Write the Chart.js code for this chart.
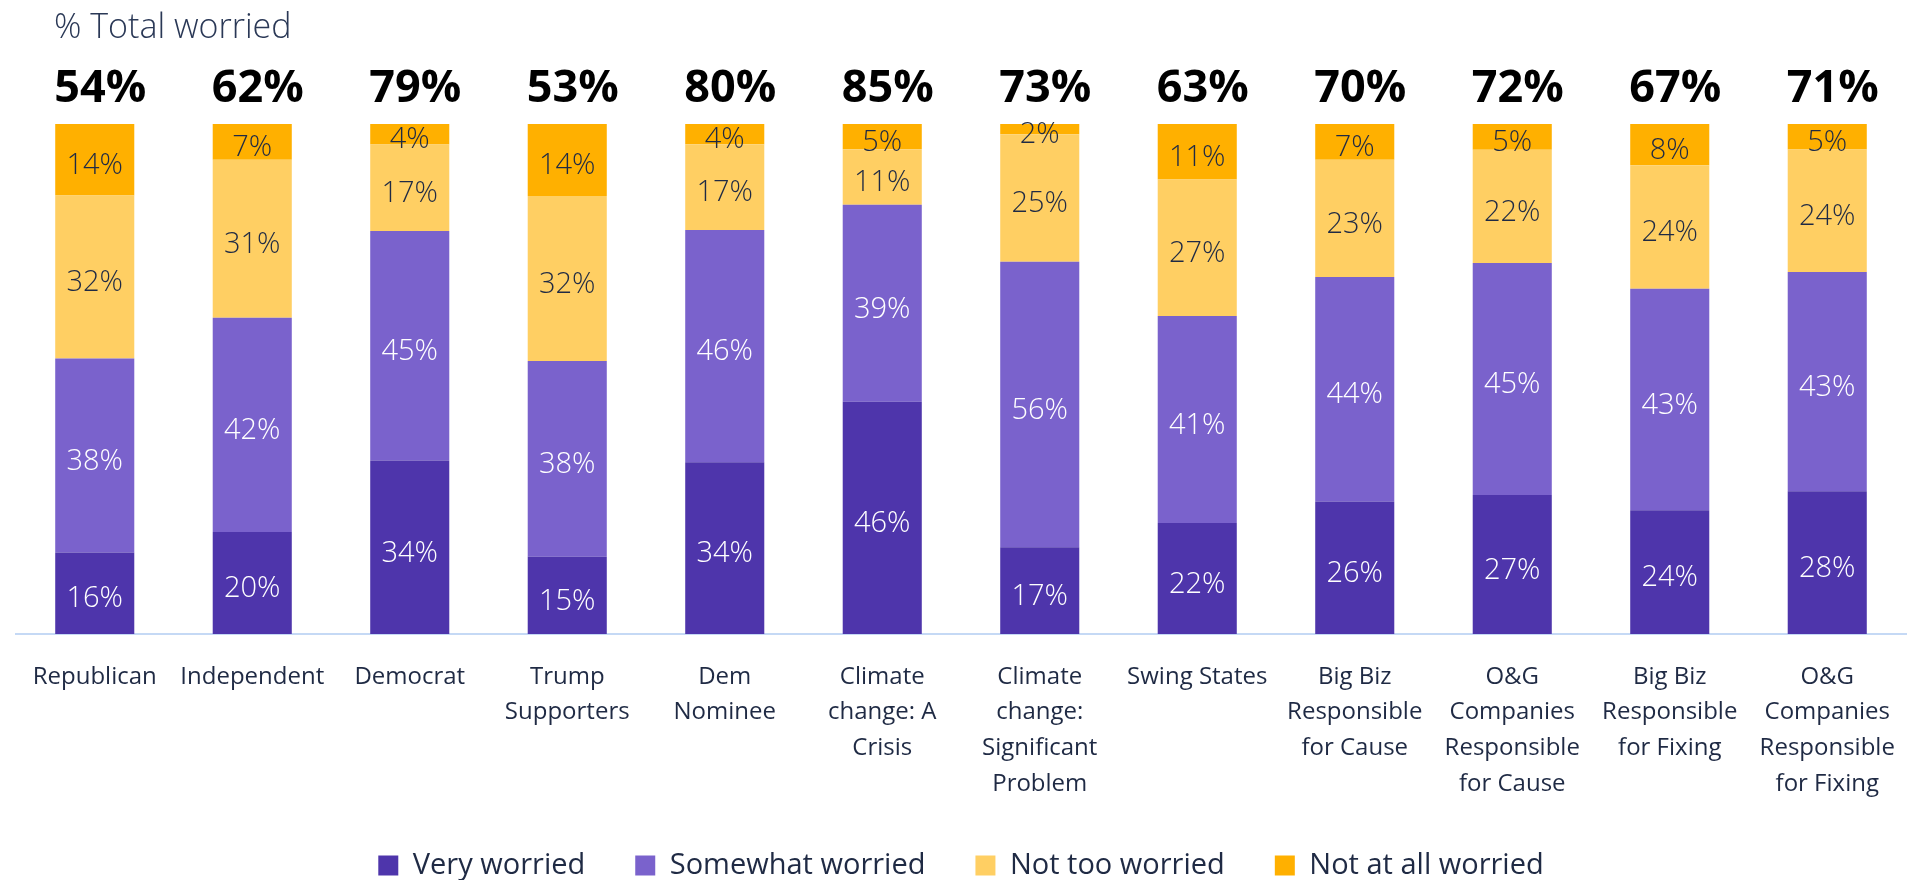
<!DOCTYPE html>
<html>
<head>
<meta charset="utf-8">
<title>% Total worried</title>
<script src="https://cdn.jsdelivr.net/npm/chart.js@4.4.1/dist/chart.umd.min.js"></script>
<style>
  html, body { margin: 0; padding: 0; background: #ffffff; overflow: hidden; }
  #wrap { width: 1928px; height: 880px; position: relative; }
</style>
</head>
<body>
<div id="wrap"><canvas id="worry-chart"></canvas></div>
<script>
// Survey groups along the x axis (arrays break the label onto several lines)
const categories = [
    'Republican',
    'Independent',
    'Democrat',
    ['Trump', 'Supporters'],
    ['Dem', 'Nominee'],
    ['Climate', 'change: A', 'Crisis'],
    ['Climate', 'change:', 'Significant', 'Problem'],
    'Swing States',
    ['Big Biz', 'Responsible', 'for Cause'],
    ['O&G', 'Companies', 'Responsible', 'for Cause'],
    ['Big Biz', 'Responsible', 'for Fixing'],
    ['O&G', 'Companies', 'Responsible', 'for Fixing']
];

// Answer shares per group, in %
const veryWorried     = [16, 20, 34, 15, 34, 46, 17, 22, 26, 27, 24, 28];
const somewhatWorried = [38, 42, 45, 38, 46, 39, 56, 41, 44, 45, 43, 43];
const notTooWorried   = [32, 31, 17, 32, 17, 11, 25, 27, 23, 22, 24, 24];
const notAtAllWorried = [14, 7, 4, 14, 4, 5, 2, 11, 7, 5, 8, 5];

// "% Total worried" figure printed above every column
const totalWorried = [54, 62, 79, 53, 80, 85, 73, 63, 70, 72, 67, 71];

const FONT = "'Open Sans', 'Noto Sans', sans-serif";
const INK = '#1f2a44';

// 100% stacked: each column is scaled to its own answer total
const columnSums = categories.map((_, i) =>
    veryWorried[i] + somewhatWorried[i] + notTooWorried[i] + notAtAllWorried[i]);
const asShare = values => values.map((v, i) => v / columnSums[i] * 100);

function series(label, values, color, textColor) {
    return {
        label: label,
        data: asShare(values),
        values: values,
        textColor: textColor,
        backgroundColor: color,
        borderWidth: 0,
        categoryPercentage: 1,
        barPercentage: 0.502
    };
}

// Percentage written in the middle of each segment
const segmentLabels = {
    id: 'segmentLabels',
    afterDatasetsDraw(chart) {
        const ctx = chart.ctx;
        ctx.save();
        ctx.font = '300 29px ' + FONT;
        ctx.textAlign = 'center';
        ctx.textBaseline = 'middle';
        chart.data.datasets.forEach((ds, i) => {
            const meta = chart.getDatasetMeta(i);
            ctx.fillStyle = ds.textColor;
            meta.data.forEach((bar, j) => {
                const p = bar.getProps(['x', 'y', 'base'], true);
                ctx.fillText(ds.values[j] + '%', p.x, (p.y + p.base) / 2 + 6);
            });
        });
        ctx.restore();
    }
};

// Chart heading plus the bold totals sitting on top of the columns
const headerLabels = {
    id: 'headerLabels',
    afterDraw(chart) {
        const ctx = chart.ctx;
        const top = chart.scales.y.getPixelForValue(100);
        ctx.save();
        ctx.textBaseline = 'middle';
        ctx.textAlign = 'left';
        ctx.fillStyle = '#2a3856';
        ctx.font = '300 34px ' + FONT;
        ctx.fillText('% Total worried', 54, 28);

        ctx.fillStyle = '#000000';
        ctx.font = 'bold 45px ' + FONT;
        chart.getDatasetMeta(0).data.forEach((bar, j) => {
            const p = bar.getProps(['x', 'width'], true);
            ctx.fillText(totalWorried[j] + '%', p.x - p.width / 2 - 1, top - 35);
        });
        ctx.restore();
    }
};

const ctx = document.getElementById('worry-chart').getContext('2d');

new Chart(ctx, {
    type: 'bar',
    data: {
        labels: categories,
        datasets: [
            series('Very worried', veryWorried, '#4e35ab', '#ffffff'),
            series('Somewhat worried', somewhatWorried, '#7a62cc', '#ffffff'),
            series('Not too worried', notTooWorried, '#ffcf63', INK),
            series('Not at all worried', notAtAllWorried, '#ffb000', INK)
        ]
    },
    options: {
        responsive: true,
        maintainAspectRatio: false,
        animation: false,
        layout: {
            padding: { top: 124, left: 16, right: 22, bottom: -10 }
        },
        scales: {
            x: {
                stacked: true,
                grid: { display: false, drawTicks: false },
                border: { display: true, color: '#c5d9f5', width: 2 },
                ticks: {
                    color: INK,
                    padding: 25,
                    maxRotation: 0,
                    autoSkip: false,
                    font: { family: FONT, size: 24, lineHeight: 1.4875 }
                },
                // keep the label band a fixed height so the legend sits low
                afterFit(scale) {
                    scale.height = 167;
                }
            },
            y: {
                stacked: true,
                display: false,
                min: 0,
                max: 100
            }
        },
        plugins: {
            legend: {
                position: 'bottom',
                labels: {
                    color: INK,
                    boxWidth: 20,
                    boxHeight: 20,
                    padding: 50,
                    font: { family: FONT, size: 29 }
                }
            },
            tooltip: { enabled: false },
            title: { display: false }
        }
    },
    plugins: [segmentLabels, headerLabels]
});
</script>
</body>
</html>
